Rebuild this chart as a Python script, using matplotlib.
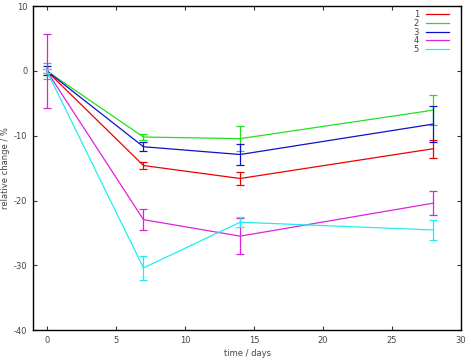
import matplotlib
matplotlib.use("Agg")
import matplotlib.pyplot as plt

plt.rcParams['axes.unicode_minus'] = False

# time points (days)
days = [0, 7, 14, 28]

# relative change / % and error for each group
s1 = [0.0, -14.6, -16.6, -12.0]
e1 = [0.3, 0.5, 1.0, 1.4]
s2 = [0.0, -10.2, -10.45, -6.05]
e2 = [1.2, 0.4, 1.95, 2.35]
s3 = [0.0, -11.7, -12.9, -8.2]
e3 = [0.7, 0.7, 1.6, 2.8]
s4 = [0.0, -22.95, -25.5, -20.4]
e4 = [5.7, 1.65, 2.8, 1.9]
s5 = [0.0, -30.4, -23.35, -24.55]
e5 = [0.3, 1.9, 0.75, 1.5]

labels = ['1', '2', '3', '4', '5']
colors = ['#ee0000', '#22e022', '#1010c8', '#e020e0', '#20eeee']

fig = plt.figure(figsize=(4.71, 3.6), dpi=100)
ax = fig.add_axes([0.070, 0.083, 0.909, 0.900])

for ys, es, lab, c in zip([s1, s2, s3, s4, s5], [e1, e2, e3, e4, e5], labels, colors):
    ax.plot(days, ys, color=c, lw=0.9, label=lab)
    ax.errorbar(days, ys, yerr=es, fmt='none', ecolor=c, elinewidth=0.9,
                capsize=3, capthick=0.9)

ax.set_xlim(-1, 30)
ax.set_ylim(-40, 10)
ax.set_xticks([0, 5, 10, 15, 20, 25, 30])
ax.set_yticks([-40, -30, -20, -10, 0, 10])
ax.tick_params(direction='in', length=3, width=0.8, labelsize=6, colors='#333333',
               top=True, right=True, labelcolor='#444444', pad=4)
for sp in ax.spines.values():
    sp.set_linewidth(1.0)
    sp.set_color('black')

ax.set_xlabel('time / days', fontsize=6, color='#444444', labelpad=3)
ax.set_ylabel('relative change / %', fontsize=6, color='#444444', labelpad=3)

ax.legend(loc='upper right', bbox_to_anchor=(0.985, 1.005), frameon=False,
          markerfirst=False, fontsize=6, handlelength=2.8, labelspacing=-0.05,
          handletextpad=0.8, borderpad=0.2, labelcolor='#444444')

fig.savefig('out.png', dpi=100)
